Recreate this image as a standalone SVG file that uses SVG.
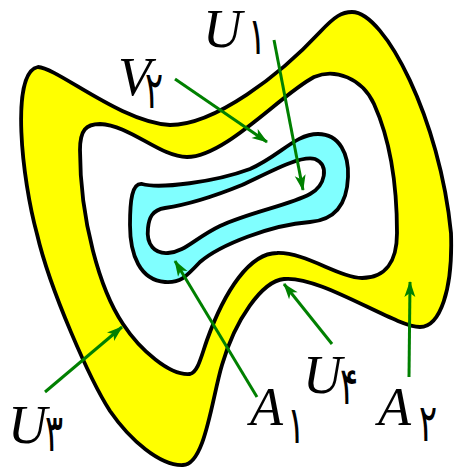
<svg xmlns="http://www.w3.org/2000/svg" width="454" height="468" viewBox="0 0 454 468">
<style>
.ln{stroke:#000;stroke-width:3.8;stroke-linejoin:round}
.arr{stroke:#008000;stroke-width:3;fill:none;marker-end:url(#ah)}
.let{font-family:"Liberation Serif",serif;font-style:italic;font-size:54px;fill:#000}
.dig{font-family:"DejaVu Sans",sans-serif;font-size:52px;fill:#000}
</style>
<defs>
<marker id="ah" markerUnits="userSpaceOnUse" viewBox="-16 -7 18 14" refX="0" refY="0" markerWidth="18" markerHeight="14" orient="auto">
<path d="M1,0 L-15,-5.5 L-11,0 L-15,5.5 Z" fill="#008000"/>
</marker>
</defs>
<g id="region-A2">
<path class="ln" fill="#ffff00" d="M38,67 C58,68 120,122 170,125 C215,125 280,75 320,32 C335,16 342,12 352,12 C385,12 440,120 451,233 C453,290 440,327 420,327 C395,327 320,275 284,279 C262,281 235,320 222,365 C212,398 205,465 183,465 C160,466 130,440 110,411 C90,380 50,290 37,234 C22,180 10,72 38,67 Z"/>
</g>
<g id="region-U">
<path class="ln" fill="#ffffff" d="M80,150 C80,130 86,124 100,124 C130,125 160,157 187,157 C225,157 280,95 314,77 C335,68 362,78 374,104 C388,135 397,180 397,233 C397,262 385,278 362,278 C340,278 305,252 277,253 C250,253 225,290 207,340 C201,357 198,372 190,374 C170,376 140,350 123,324 C100,290 80,220 80,150 Z"/>
</g>
<g id="region-V2">
<path class="ln" fill="#80ffff" d="M142,184 C160,189 215,182 250,169 C280,156 295,134 318,134 C340,134 349,155 348,177 C347,205 335,220 310,222 C270,225 220,245 200,262 C185,278 180,283 165,282 C140,280 130,255 130,225 C130,200 132,183 142,184 Z"/>
</g>
<g id="region-A1">
<path class="ln" fill="#ffffff" d="M148,228 C146,245 155,254 168,253 C185,252 195,238 220,226 C250,212 290,205 310,194 C325,186 330,165 315,159 C300,155 270,172 242,185 C215,196 185,205 165,208 C152,210 149,218 148,228 Z"/>
</g>
<g id="connectors">
<line class="arr" x1="175" y1="79" x2="267" y2="142"/>
<line class="arr" x1="274" y1="40" x2="303" y2="190"/>
<line class="arr" x1="45" y1="392" x2="122" y2="327"/>
<line class="arr" x1="257" y1="397" x2="175" y2="261"/>
<line class="arr" x1="332" y1="344" x2="284" y2="284"/>
<line class="arr" x1="409" y1="377" x2="410" y2="282"/>
</g>
<g id="label-U1"><text class="let" x="203" y="47">U</text><text class="dig" transform="translate(248,54) scale(0.65,1)">۱</text></g>
<g id="label-V2"><text class="let" x="118" y="95">V</text><text class="dig" transform="translate(145,108) scale(0.65,1)">۲</text></g>
<g id="label-U3"><text class="let" x="8" y="443">U</text><text class="dig" transform="translate(45,451) scale(0.65,1)">۳</text></g>
<g id="label-U4"><text class="let" x="303" y="393">U</text><text class="dig" transform="translate(340,404) scale(0.65,1)">۴</text></g>
<g id="label-A1"><text class="let" x="250" y="425">A</text><text class="dig" transform="translate(287,443) scale(0.65,1)">۱</text></g>
<g id="label-A2"><text class="let" x="378" y="425">A</text><text class="dig" transform="translate(419,441) scale(0.65,1)">۲</text></g>
</svg>
